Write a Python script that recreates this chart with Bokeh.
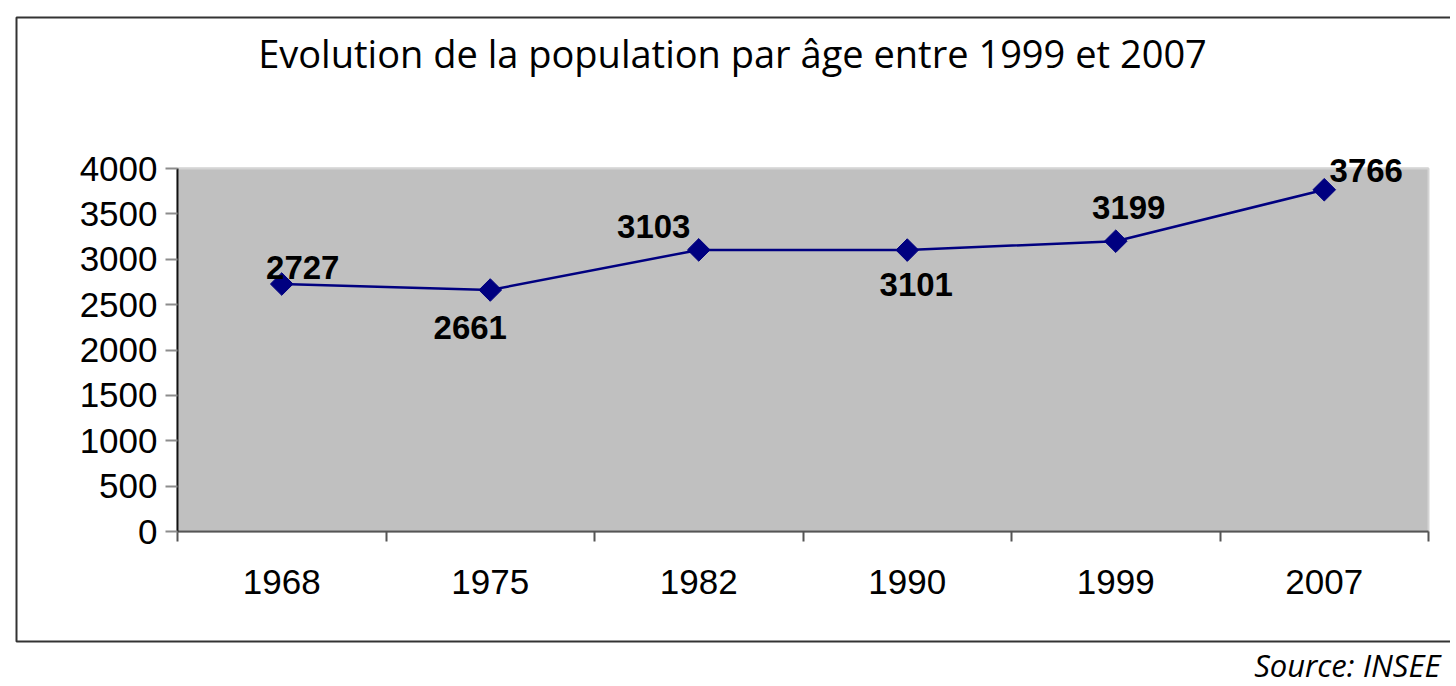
from bokeh.plotting import figure
from bokeh.models import Range1d, FixedTicker, Label, BoxAnnotation, ColumnDataSource, LinearAxis
from bokeh.embed import file_html
from bokeh.resources import INLINE
from bokeh.core.properties import value
import math

# ---- data ----
years = ["1968", "1975", "1982", "1990", "1999", "2007"]
population = [2727, 2661, 3103, 3101, 3199, 3766]
y_ticks = [0, 500, 1000, 1500, 2000, 2500, 3000, 3500, 4000]
title_text = "Evolution de la population par âge entre 1999 et 2007"
source_text = "Source: INSEE"

# label placement (style, pixels)
label_dx = [21, -20, -45, 9, 13, 42]
label_dy = [-17, 37, -23, 34, -34, -19]

# ---- layout constants (pixels on the page) ----
W, H = 1450, 684
PL, PR, PT, PB = 177, 1428, 168, 531          # plot area edges
n = len(years)
ymax = 4000
ux = (PR - PL) / n            # px per x unit
uy = ymax / (PB - PT)         # y units per px


def dx(px):
    return (px - PL) / ux


def dy(py):
    return (PB - py) * uy


xs = [i + 0.5 for i in range(n)]

p = figure(width=W, height=H, output_backend="svg", toolbar_location=None,
           x_range=Range1d(dx(0), dx(W)), y_range=Range1d(dy(H), dy(0)),
           x_axis_location=None, y_axis_location=None,
           min_border=0)
p.min_border_left = p.min_border_right = p.min_border_top = p.min_border_bottom = 0
p.background_fill_color = "white"
p.border_fill_color = "white"
p.outline_line_color = None
p.grid.visible = False

# outer border box (right side runs off the page, as in the reference)
p.add_layout(BoxAnnotation(left=dx(16), right=dx(W + 20), top=dy(17), bottom=dy(641),
                           fill_alpha=0, line_color="#333333", line_alpha=1,
                           line_width=2, level="underlay"))
# plot area
p.add_layout(BoxAnnotation(left=0, right=n, bottom=0, top=ymax,
                           fill_color="#c0c0c0", fill_alpha=1, line_color="#d4d4d4",
                           line_alpha=1, line_width=2, level="underlay"))

# horizontal grid lines
p.segment(x0=[0] * len(y_ticks), x1=[n] * len(y_ticks), y0=y_ticks, y1=y_ticks,
          line_color="#9a9a9a", line_width=1.5, level="underlay")

# y axis
yaxis = LinearAxis(fixed_location=0, bounds=(0, ymax), ticker=FixedTicker(ticks=y_ticks))
yaxis.axis_line_color = "#111111"
yaxis.axis_line_width = 2
yaxis.major_tick_line_color = "#8c8c8c"
yaxis.major_tick_line_width = 2
yaxis.major_tick_out = 12
yaxis.major_tick_in = 0
yaxis.minor_tick_line_color = None
yaxis.major_label_text_font = "Liberation Sans"
yaxis.major_label_text_font_size = "35px"
yaxis.major_label_text_color = "black"
yaxis.major_label_standoff = 8
p.add_layout(yaxis, "left")

# x axis: labels at centers, ticks at category boundaries
xaxis = LinearAxis(fixed_location=0, bounds=(0, n),
                   ticker=FixedTicker(ticks=xs, minor_ticks=list(range(n + 1))))
xaxis.major_label_overrides = {x: y for x, y in zip(xs, years)}
xaxis.major_tick_line_color = None
xaxis.major_tick_out = 0
xaxis.major_tick_in = 0
xaxis.minor_tick_line_color = "#555555"
xaxis.minor_tick_line_width = 2
xaxis.minor_tick_out = 10
xaxis.minor_tick_in = 0
xaxis.axis_line_color = "#555555"
xaxis.axis_line_width = 2
xaxis.major_label_text_font = "Liberation Sans"
xaxis.major_label_text_font_size = "35px"
xaxis.major_label_text_color = "black"
xaxis.major_label_standoff = 28
p.add_layout(xaxis, "below")

src = ColumnDataSource(dict(x=xs, y=population, lab=[str(v) for v in population],
                            dx=label_dx, dy=label_dy))
p.line("x", "y", source=src, line_color="#000080", line_width=2.5)
p.scatter("x", "y", source=src, marker="square", size=16, angle=math.pi / 4,
          fill_color="#000080", line_color="#000080")
p.text("x", "y", text="lab", source=src, x_offset="dx", y_offset="dy",
       text_align="center", text_baseline="middle",
       text_font=value("Liberation Sans"), text_font_style="bold",
       text_font_size="33px", text_color="black")

p.add_layout(Label(x=dx(732), y=dy(52), text=title_text,
                   text_align="center", text_baseline="middle",
                   text_font="Open Sans", text_font_size="38px", text_color="black"))

p.add_layout(Label(x=dx(1440), y=dy(664), text=source_text,
                   text_align="right", text_baseline="middle",
                   text_font="Open Sans", text_font_style="italic",
                   text_font_size="31px", text_color="black"))

open("out.html", "w").write(file_html(p, INLINE))
